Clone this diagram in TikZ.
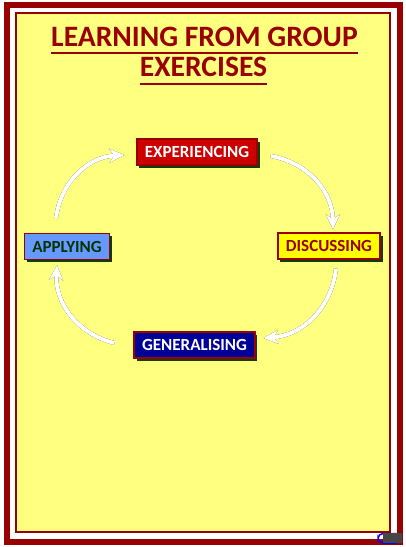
\documentclass[tikz,border=0pt]{standalone}
\usepackage{fontspec}
\setmainfont{Carlito}
\usetikzlibrary{arrows.meta, shadows}
\definecolor{framered}{RGB}{153,0,0}
\definecolor{pageyellow}{RGB}{255,255,128}
\definecolor{expred}{RGB}{204,0,0}
\definecolor{appblue}{RGB}{102,153,255}
\definecolor{discyellow}{RGB}{255,255,0}
\definecolor{genblue}{RGB}{0,0,153}
\definecolor{darkgreen}{RGB}{0,51,0}
\definecolor{shadowgreen}{RGB}{20,60,0}
\definecolor{navblue}{RGB}{0,0,255}
\definecolor{navgray}{RGB}{70,70,70}
\tikzset{
  expbox/.style={
    rectangle,
    minimum height=26pt,
    inner xsep=8pt,
    align=center,
    draw=framered,
    line width=1.2pt,
    fill=expred,
    text=white,
    font=\fontsize{17}{20}\selectfont\bfseries,
    drop shadow={shadow xshift=2.5pt, shadow yshift=-2.5pt, fill=shadowgreen, opacity=1}
  },
  appbox/.style={
    rectangle,
    minimum height=26pt,
    inner xsep=8pt,
    align=center,
    draw=framered,
    line width=1.2pt,
    fill=appblue,
    text=darkgreen,
    font=\fontsize{17}{20}\selectfont\bfseries,
    drop shadow={shadow xshift=2.5pt, shadow yshift=-2.5pt, fill=shadowgreen, opacity=1}
  },
  discbox/.style={
    rectangle,
    minimum height=26pt,
    inner xsep=8pt,
    align=center,
    draw=framered,
    line width=1.2pt,
    fill=discyellow,
    text=framered,
    font=\fontsize{17}{20}\selectfont\bfseries,
    drop shadow={shadow xshift=2.5pt, shadow yshift=-2.5pt, fill=shadowgreen, opacity=1}
  },
  genbox/.style={
    rectangle,
    minimum height=26pt,
    inner xsep=8pt,
    align=center,
    draw=framered,
    line width=1.2pt,
    fill=genblue,
    text=white,
    font=\fontsize{17}{20}\selectfont\bfseries,
    drop shadow={shadow xshift=2.5pt, shadow yshift=-2.5pt, fill=shadowgreen, opacity=1}
  },
  titletext/.style={
    inner sep=0pt,
    anchor=base,
    text=framered,
    font=\fontsize{29.6}{34}\selectfont\bfseries
  },
  titleline/.style={framered, line width=2pt},
  arrowshade/.style={
    black!85,
    line width=4pt,
    -{Stealth[length=15pt,width=14pt]}
  },
  cycarrow/.style={
    white,
    line width=4pt,
    -{Stealth[length=15pt,width=14pt]}
  }
}

\begin{document}
\begin{tikzpicture}[x=1pt, y=1pt]
    \useasboundingbox (0,0) rectangle (406,-547);
    \draw[framered, line width=6pt] (7,-5) rectangle (400,-542);
    \draw[framered, line width=2pt, fill=pageyellow] (16,-13) rectangle (390,-532);
    \node (t1) [titletext] at (204.5,-46.5) {LEARNING FROM GROUP};
    \node (t2) [titletext] at (203.5,-76.7) {EXERCISES};
    \draw[titleline] ([yshift=-6pt]t1.base west) -- ([yshift=-6pt]t1.base east);
    \draw[titleline] ([yshift=-7pt]t2.base west) -- ([yshift=-7pt]t2.base east);
    \node (exp) [expbox] at (197,-152) {EXPERIENCING};
    \node (disc) [discbox] at (329,-246) {DISCUSSING};
    \node (gen) [genbox] at (194.5,-345) {GENERALISING};
    \node (app) [appbox] at (67,-246.5) {APPLYING};
    \foreach \dx/\dy/\sty in {1.2/-1.6/arrowshade, 0/0/cycarrow} {
      \begin{scope}[shift={(\dx,\dy)}]
        \draw[\sty] ([shift={(-11,15)}]app.north) to[bend left=40] ([shift={(-12,-3)}]exp.west);
        \draw[\sty] ([shift={(13,-4)}]exp.east) to[bend left=40] ([shift={(4,3)}]disc.north);
        \draw[\sty] ([shift={(7,-9)}]disc.south) to[bend left=40] ([shift={(8,7)}]gen.east);
        \draw[\sty] ([shift={(-19,2)}]gen.west) to[bend left=40] ([shift={(-10,-5)}]app.south);
      \end{scope}
    }
    \draw[navblue, line width=1.5pt, rounded corners=5pt] (378,-533.5) rectangle (401,-543);
    \fill[navgray] (383,-533) rectangle (402,-543);
\end{tikzpicture}
\end{document}
